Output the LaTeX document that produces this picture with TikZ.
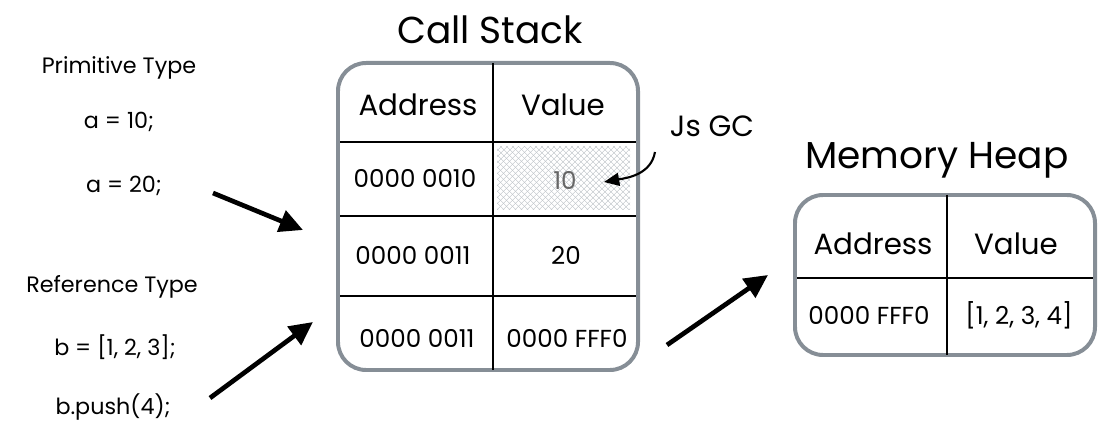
\documentclass[tikz,border=0pt]{standalone}
\usepackage{fontspec}
\setmainfont{Poppins}
\definecolor{boxgray}{HTML}{868E96}
\definecolor{hatchgray}{HTML}{BCC1C6}
\usetikzlibrary{positioning,arrows.meta,patterns.meta}

\begin{document}
\begin{tikzpicture}[
  x=0.03cm, y=-0.03cm,
  title/.style={font=\fontsize{32}{36}\selectfont},
  head/.style={font=\fontsize{25}{30}\selectfont},
  cell/.style={font=\fontsize{21}{25}\selectfont},
  code/.style={font=\fontsize{19}{23}\selectfont},
  tbl/.style={draw=boxgray, line width=3.4pt, rounded corners=24pt, inner sep=0pt},
  rule/.style={line width=1.6pt},
  hatch/.style={pattern={Lines[angle=#1, distance=4pt, line width=0.5pt]}, pattern color=hatchgray},
  arr/.style={-{Triangle[length=20pt, width=19pt]}, line width=4pt},
  gcarr/.style={-{Triangle[length=13pt, width=11pt]}, line width=1.8pt},
]
  \useasboundingbox (0,0) rectangle (1108,427);

  % Left side code
  \node[code] (prim) at (119,68)  {Primitive Type};
  \node[code] (a10)  at (119,122) {a = 10;};
  \node[code] (a20)  at (124,186) {a = 20;};
  \node[code] (ref)  at (112,287) {Reference Type};
  \node[code] (barr) at (115,347) {b = [1, 2, 3];};
  \node[code] (bpush) at (113,407) {b.push(4);};

  % Call stack
  \node[title] (stacktitle) at (490,30) {Call Stack};
  \fill[hatch=45]  (497,147) rectangle (630,210);
  \fill[hatch=-45] (497,147) rectangle (630,210);
  \node[tbl, minimum width=9cm, minimum height=9.21cm] (stack) at (488,216.5) {};
  \draw[rule] (493,63) -- (493,370);
  \draw[rule] (340,142) -- (636,142);
  \draw[rule] (340,216) -- (636,216);
  \draw[rule] (340,296) -- (636,296);
  \node[head] (saddr) at (418,105) {Address};
  \node[head] (sval)  at (563,105) {Value};
  \node[cell] (s1a) at (415,178) {0000 0010};
  \node[cell, text=black!60] (s1v) at (565,180) {10};
  \node[cell] (s2a) at (413,255) {0000 0011};
  \node[cell] (s2v) at (566,255) {20};
  \node[cell] (s3a) at (417,338) {0000 0011};
  \node[cell] (s3v) at (567,338) {0000 FFF0};

  % Memory heap
  \node[title] (heaptitle) at (937,160) {Memory Heap};
  \node[tbl, minimum width=9cm, minimum height=4.8cm] (heap) at (945,275) {};
  \draw[rule] (947,195) -- (947,355);
  \draw[rule] (797,278) -- (1093,278);
  \node[head] (haddr) at (873,244) {Address};
  \node[head] (hval)  at (1016,244) {Value};
  \node[cell] (h1a) at (869,315) {0000 FFF0};
  \node[cell] (h1v) at (1019,315) {[1, 2, 3, 4]};

  % GC note
  \node[head] (gc) at (712,126) {Js GC};
  \coordinate (gcfrom) at (655,152);
  \coordinate (gcto)   at (604,182);
  \draw[gcarr] (gcfrom) to[out=-100, in=10] (gcto);

  % Arrows
  \coordinate (p1) at (213,193); \coordinate (p2) at (303,230);
  \coordinate (r1) at (210,398); \coordinate (r2) at (313,322);
  \coordinate (h1) at (667,345); \coordinate (h2) at (768,275);
  \draw[arr] (p1) -- (p2);
  \draw[arr] (r1) -- (r2);
  \draw[arr] (h1) -- (h2);
\end{tikzpicture}
\end{document}
